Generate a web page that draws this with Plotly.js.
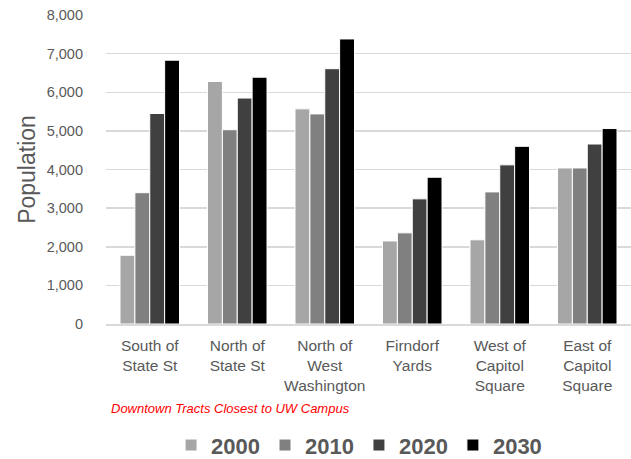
<!DOCTYPE html>
<html><head><meta charset="utf-8">
<script src="https://cdn.plot.ly/plotly-3.0.1.min.js"></script>
<style>html,body{margin:0;padding:0;background:#fff}#chart{width:631px;height:459px}</style>
</head><body><div id="chart"></div>
<script>
const categories = ["South of<br>State St", "North of<br>State St", "North of<br>West<br>Washington", "Firndorf<br>Yards", "West of<br>Capitol<br>Square", "East of<br>Capitol<br>Square"];
const seriesNames = ["2000", "2010", "2020", "2030"];
const pop2000 = [1780, 6280, 5570, 2150, 2180, 4040];
const pop2010 = [3400, 5030, 5440, 2360, 3420, 4040];
const pop2020 = [5450, 5850, 6610, 3240, 4120, 4660];
const pop2030 = [6830, 6390, 7380, 3800, 4600, 5060];
const colors = ["#a6a6a6", "#808080", "#404040", "#000000"];
const values = [pop2000, pop2010, pop2020, pop2030];

const traces = values.map((v, i) => ({
  type: "bar", name: seriesNames[i], x: categories, y: v,
  marker: {color: colors[i], line: {color: "#ffffff", width: 1}},
  hoverinfo: "skip"
}));

const layout = {
  width: 631, height: 459,
  margin: {l: 106, r: 0, t: 15, b: 135},
  paper_bgcolor: "#fff", plot_bgcolor: "#fff",
  font: {family: "Liberation Sans, Arial, sans-serif", color: "#595959"},
  barmode: "group", bargap: 0.32, bargroupgap: 0,
  xaxis: {
    showgrid: false, showline: true, linecolor: "#d9d9d9", linewidth: 1.5,
    tickfont: {size: 15.5, color: "#595959"}, ticks: "", ticklabelstandoff: 7,
    automargin: false
  },
  yaxis: {
    range: [0, 8000], tickvals: [0,1000,2000,3000,4000,5000,6000,7000,8000],
    tickformat: ",d", showgrid: true, gridcolor: "#d9d9d9", gridwidth: 1.5,
    zeroline: false, showline: false, ticks: "", ticklabelstandoff: 22,
    tickfont: {size: 14.5, color: "#595959"},
    title: {text: "Population", font: {size: 23, color: "#595959"}, standoff: 4},
    automargin: false
  },
  showlegend: true,
  legend: {
    orientation: "h", x: 0.482, xanchor: "center",
    yref: "container", y: 0.03, yanchor: "middle",
    font: {size: 22, color: "#595959", family: "Liberation Sans, Arial, sans-serif", weight: "bold"},
    traceorder: "normal", itemclick: false
  },
  annotations: [{
    text: "Downtown Tracts Closest to UW Campus", xref: "paper", yref: "paper",
    x: 0.006, y: -0.272, xanchor: "left", yanchor: "middle", showarrow: false,
    font: {size: 13, color: "#ff0000", style: "italic"}
  }]
};
Plotly.newPlot("chart", traces, layout, {displayModeBar: false, staticPlot: true});
</script></body></html>
